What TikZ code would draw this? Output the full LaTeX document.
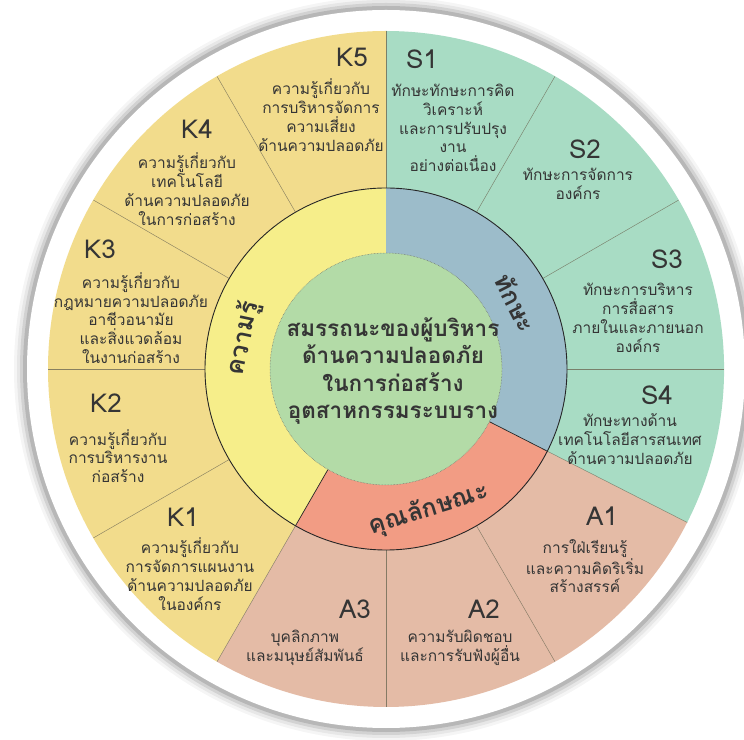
\documentclass[tikz,border=0pt]{standalone}
\usepackage{fontspec}
\setmainfont{Loma}[Script=Thai]
\usepackage{tikz}
\usetikzlibrary{positioning,calc}
\definecolor{cmKnow}{HTML}{F2DC8C}
\definecolor{cmKnowRing}{HTML}{F6EE8A}
\definecolor{cmSkill}{HTML}{A8DCC4}
\definecolor{cmSkillRing}{HTML}{9CBCCA}
\definecolor{cmAttr}{HTML}{E4BBA6}
\definecolor{cmAttrRing}{HTML}{F29C84}
\definecolor{cmCore}{HTML}{B3DBA7}
\definecolor{cmInk}{HTML}{353535}
\definecolor{cmRule}{HTML}{6E6A55}
\tikzset{
  code/.style={font=\fontsize{26}{28}\selectfont, text=cmInk, inner sep=0pt},
  desc/.style={font=\fontsize{15.5}{18.8}\selectfont, text=cmInk, align=center, inner sep=0pt},
  ringlabel/.style={font=\fontsize{25}{27}\selectfont\bfseries, text=cmInk, inner sep=0pt},
  coretext/.style={font=\fontsize{22.5}{27.5}\selectfont\bfseries, text=cmInk, align=center, inner sep=0pt},
  secline/.style={draw=cmRule, line width=0.45pt, opacity=0.8},
  ringline/.style={draw=black!85, line width=0.9pt},
  coreline/.style={draw=black!60, line width=0.5pt, densely dotted}
}
\begin{document}
\begin{tikzpicture}[x=1pt,y=1pt]
  \useasboundingbox (0,0) rectangle (744,739);
  \coordinate (c) at (386,370);
  % white rim with soft shadow
  \foreach \r/\o in {372/0.04,369/0.06,366/0.09,363/0.13}
    \fill[black, opacity=\o] (c) circle (\r);
  \fill[white] (c) circle (359);
  % outer sectors
  \fill[cmKnow] (c) -- ([shift={(90:338)}]c) arc[start angle=90, end angle=240, radius=338] -- cycle;
  \fill[cmAttr] (c) -- ([shift={(240:338)}]c) arc[start angle=240, end angle=333, radius=338] -- cycle;
  \fill[cmSkill] (c) -- ([shift={(-27:338)}]c) arc[start angle=-27, end angle=90, radius=338] -- cycle;
  \foreach \a in {90,120,150,180,210,240,270,300,333,0,30,60}
    \draw[secline] ([shift={(\a:181)}]c) -- ([shift={(\a:338)}]c);
  % middle ring
  \fill[cmKnowRing] (c) -- ([shift={(90:181)}]c) arc[start angle=90, end angle=240, radius=181] -- cycle;
  \fill[cmAttrRing] (c) -- ([shift={(240:181)}]c) arc[start angle=240, end angle=333, radius=181] -- cycle;
  \fill[cmSkillRing] (c) -- ([shift={(-27:181)}]c) arc[start angle=-27, end angle=90, radius=181] -- cycle;
  \draw[ringline] (c) circle (181);
  \foreach \a in {240,333}
    \draw[ringline, line width=0.7pt] ([shift={(\a:116)}]c) -- ([shift={(\a:181)}]c);
  % core
  \fill[cmCore] (c) circle (116);
  \draw[coreline] (c) circle (116);
  \node[coretext] (core) at (393,368) {สมรรถนะของผู้บริหาร\\ด้านความปลอดภัย\\ในการก่อสร้าง\\อุตสาหกรรมระบบราง};
  % ring labels
  \node[ringlabel, rotate=78] (know) at ([shift={(168:146)}]c) {ความรู้};
  \node[ringlabel, rotate=-63] (skill) at ([shift={(27:146)}]c) {ทักษะ};
  \node[ringlabel, rotate=17] (attr) at ([shift={(-73:147)}]c) {คุณลักษณะ};
  % knowledge
  \node[code] (k5) at (352,682) {K5};
  \node[desc] (k5t) at (321,624) {ความรู้เกี่ยวกับ\\การบริหารจัดการ\\ความเสี่ยง\\ด้านความปลอดภัย};
  \node[code] (k4) at (197,610) {K4};
  \node[desc] (k4t) at (187,550) {ความรู้เกี่ยวกับ\\เทคโนโลยี\\ด้านความปลอดภัย\\ในการก่อสร้าง};
  \node[code] (k3) at (100,490) {K3};
  \node[desc] (k3t) at (131,421) {ความรู้เกี่ยวกับ\\กฎหมายความปลอดภัย\\อาชีวอนามัย\\และสิ่งแวดล้อม\\ในงานก่อสร้าง};
  \node[code] (k2) at (106,336) {K2};
  \node[desc] (k2t) at (118,283) {ความรู้เกี่ยวกับ\\การบริหารงาน\\ก่อสร้าง};
  \node[code] (k1) at (183,222) {K1};
  \node[desc] (k1t) at (190,165) {ความรู้เกี่ยวกับ\\การจัดการแผนงาน\\ด้านความปลอดภัย\\ในองค์กร};
  % attributes
  \node[code] (a3) at (355,130) {A3};
  \node[desc] (a3t) at (305,91) {บุคลิกภาพ\\และมนุษย์สัมพันธ์};
  \node[code] (a2) at (484,130) {A2};
  \node[desc] (a2t) at (460,91) {ความรับผิดชอบ\\และการรับฟังผู้อื่น};
  \node[code] (a1) at (602,223) {A1};
  \node[desc] (a1t) at (585,173) {การใฝ่เรียนรู้\\และความคิดริเริ่ม\\สร้างสรรค์};
  % skills
  \node[code] (s4) at (657,344) {S4};
  \node[desc] (s4t) at (630,300) {ทักษะทางด้าน\\เทคโนโลยีสารสนเทศ\\ด้านความปลอดภัย};
  \node[code] (s3) at (667,480) {S3};
  \node[desc] (s3t) at (638,421) {ทักษะการบริหาร\\การสื่อสาร\\ภายในและภายนอก\\องค์กร};
  \node[code] (s2) at (585,590) {S2};
  \node[desc] (s2t) at (578,555) {ทักษะการจัดการ\\องค์กร};
  \node[code] (s1) at (422,680) {S1};
  \node[desc] (s1t) at (453,611) {ทักษะทักษะการคิด\\วิเคราะห์\\และการปรับปรุง\\งาน\\อย่างต่อเนื่อง};
\end{tikzpicture}
\end{document}
